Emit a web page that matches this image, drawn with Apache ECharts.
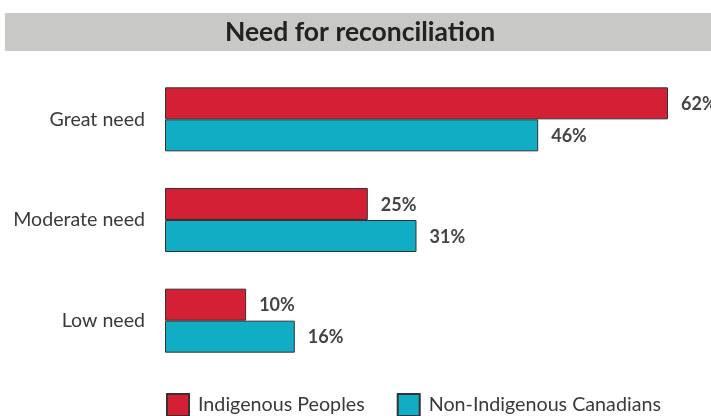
<!DOCTYPE html>
<html><head><meta charset="utf-8">
<script src="https://cdn.jsdelivr.net/npm/echarts@6/dist/echarts.min.js"></script>
<style>html,body{margin:0;padding:0;background:#fff}#c{width:711px;height:416px}</style>
</head><body><div id="c"></div>
<script>
const categories = ['Great need', 'Moderate need', 'Low need'];
const indigenous = [62, 25, 10];
const nonIndigenous = [46, 31, 16];
const seriesNames = ['Indigenous Peoples', 'Non-Indigenous Canadians'];
const titleText = 'Need for reconciliation';

const chart = echarts.init(document.getElementById('c'));
const labelCfg = {
  show: true, position: 'right', distance: 13, offset: [0, 1],
  formatter: p => p.value + '%',
  fontFamily: 'Lato', fontWeight: 'bold', fontSize: 18, color: '#444'
};
chart.setOption({
  animation: false,
  graphic: [
    { type: 'rect', shape: { x: 5, y: 13, width: 706, height: 38 }, style: { fill: '#c8c8c6' }, silent: true },
    { type: 'text', x: 360, y: 32, style: { text: titleText, font: 'bold 26.5px Lato', fill: '#222', align: 'center', verticalAlign: 'middle' } }
  ],
  grid: { left: 165, top: 69, width: 503, height: 302 },
  xAxis: { type: 'value', min: 0, max: 62, show: false },
  yAxis: {
    type: 'category', data: categories, inverse: true,
    axisLine: { show: false }, axisTick: { show: false },
    axisLabel: { fontFamily: 'Lato', fontSize: 19.6, color: '#3a3a3a', margin: 20 }
  },
  legend: {
    left: 166, top: 393, padding: 0, itemWidth: 22, itemHeight: 22, itemGap: 32, icon: 'rect',
    textStyle: { fontFamily: 'Lato', fontSize: 19.7, color: '#3a3a3a', padding: [0, 0, 0, 4] },
    data: seriesNames
  },
  series: [
    { name: seriesNames[0], type: 'bar', data: indigenous, barWidth: 32, barGap: '0%',
      itemStyle: { color: '#d42035', borderColor: '#333', borderWidth: 1 }, label: labelCfg },
    { name: seriesNames[1], type: 'bar', data: nonIndigenous, barWidth: 32, barGap: '0%',
      itemStyle: { color: '#10adc4', borderColor: '#333', borderWidth: 1 }, label: labelCfg }
  ]
});
</script></body></html>
